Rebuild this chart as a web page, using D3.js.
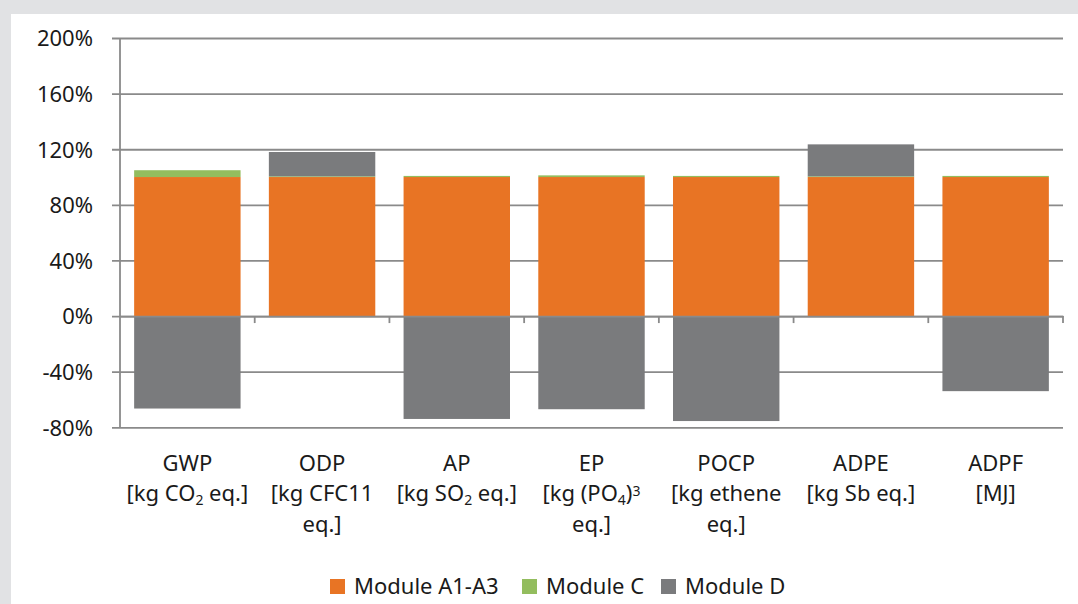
<!DOCTYPE html>
<html>
<head>
<meta charset="utf-8">
<script src="https://cdn.jsdelivr.net/npm/d3@7"></script>
<style>
  body { margin: 0; background: #e1e2e4; }
  svg { display: block; }
  text { font-family: "Noto Sans", "Open Sans", sans-serif; fill: #1a1a1a; }
</style>
</head>
<body>
<div id="chart"></div>
<script>
"use strict";

// categories, with the unit lines below them ("_x" = subscript, "^x" = superscript)
var categories = ["GWP", "ODP", "AP", "EP", "POCP", "ADPE", "ADPF"];
var unitLines = [
	["[kg CO_2 eq.]"],
	["[kg CFC11", "eq.]"],
	["[kg SO_2 eq.]"],
	["[kg (PO_4)^3", "eq.]"],
	["[kg ethene", "eq.]"],
	["[kg Sb eq.]"],
	["[MJ]"]
];

// values in %
var moduleA = [100, 100, 100, 100, 100, 100, 100];
var moduleC = [4.9, 0.5, 0.8, 1.2, 0.8, 0.5, 0.8];
var moduleD = [-66.5, 17.5, -74, -67, -75.5, 23, -54];

var seriesNames = ["Module A1-A3", "Module C", "Module D"];
var seriesKeys = ["a", "c", "d"];
var seriesColors = ["#e87424", "#93bd5e", "#7a7b7d"];

var yTicks = [-80, -40, 0, 40, 80, 120, 160, 200];

// == boilerplate ==
var W = 1078, H = 604;
var plot = { left: 120, right: 1063, top: 38, bottom: 427.3 };

var svg = d3.select("#chart").append("svg")
	.attr("width", W)
	.attr("height", H);

// grey frame + white panel
svg.append("rect").attr("width", W).attr("height", H).attr("fill", "#e1e2e4");
svg.append("rect").attr("x", 11).attr("y", 14).attr("width", W - 11).attr("height", H - 14).attr("fill", "#ffffff");

var x = d3.scaleBand()
	.domain(categories)
	.range([plot.left, plot.right])
	.paddingInner(0.21)
	.paddingOuter(0.105);

var y = d3.scaleLinear()
	.domain([-80, 200])
	.range([plot.bottom, plot.top]);

var lineColor = "#8a8a8a";

// gridlines + y labels
var yAxis = d3.axisLeft(y)
	.tickValues(yTicks)
	.tickSize(-(plot.right - plot.left) - 8)
	.tickFormat(function (d) { return d + "%"; });

var gy = svg.append("g")
	.attr("transform", "translate(" + (plot.left - 8) + ",0)")
	.call(yAxis);
gy.select(".domain").remove();
gy.selectAll(".tick line")
	.attr("x2", plot.right - plot.left + 8)
	.attr("stroke", lineColor)
	.attr("stroke-width", 1.8);
gy.selectAll(".tick text")
	.attr("x", -19)
	.attr("dy", "0.36em")
	.style("font-size", "22px")
	.style("font-family", "\"Noto Sans\", sans-serif")
	.attr("fill", "#1a1a1a");

// stacked bars (diverging, so Module D goes below zero when negative)
var rows = categories.map(function (c, i) {
	return { cat: c, a: moduleA[i], c: moduleC[i], d: moduleD[i] };
});
var stack = d3.stack().keys(seriesKeys).offset(d3.stackOffsetDiverging);
var layers = stack(rows);

svg.append("g").selectAll("g")
	.data(layers)
	.enter().append("g")
	.attr("fill", function (d, i) { return seriesColors[i]; })
	.selectAll("rect")
	.data(function (d) { return d; })
	.enter().append("rect")
	.attr("x", function (d) { return x(d.data.cat); })
	.attr("width", x.bandwidth())
	.attr("y", function (d) { return y(Math.max(d[0], d[1])); })
	.attr("height", function (d) { return Math.abs(y(d[0]) - y(d[1])); });

// y axis line
svg.append("line")
	.attr("x1", plot.left).attr("x2", plot.left)
	.attr("y1", plot.top).attr("y2", plot.bottom)
	.attr("stroke", lineColor).attr("stroke-width", 1.8);

// zero line with category tick marks
var xAxis = d3.axisBottom(x).tickSize(0).tickFormat("");
var gx = svg.append("g")
	.attr("transform", "translate(0," + y(0) + ")")
	.call(xAxis);
gx.select(".domain").attr("stroke", lineColor).attr("stroke-width", 1.8);
var bounds = categories.map(function (c) { return x(c) + x.bandwidth() + x.step() * 0.105; });
gx.selectAll(".sep")
	.data(bounds)
	.enter().append("line")
	.attr("x1", function (d) { return d; })
	.attr("x2", function (d) { return d; })
	.attr("y1", 0).attr("y2", 7)
	.attr("stroke", lineColor).attr("stroke-width", 1.8);

// category labels
function addRich(textSel, str) {
	var re = /([_^])(.)/g, last = 0, m;
	while ((m = re.exec(str)) !== null) {
		if (m.index > last) textSel.append("tspan").text(str.slice(last, m.index));
		textSel.append("tspan")
			.attr("baseline-shift", m[1] === "_" ? "-30%" : "38%")
			.style("font-size", "14px")
			.text(m[2]);
		last = re.lastIndex;
	}
	if (last < str.length) textSel.append("tspan").text(str.slice(last));
}

var labels = svg.append("g").selectAll("g")
	.data(categories)
	.enter().append("g")
	.attr("transform", function (d) { return "translate(" + (x(d) + x.bandwidth() / 2) + ",0)"; });

labels.each(function (d, i) {
	var g = d3.select(this);
	var lines = [d].concat(unitLines[i]);
	lines.forEach(function (ln, j) {
		var t = g.append("text")
			.attr("text-anchor", "middle")
			.attr("y", 470.5 + j * 30.5)
			.style("font-size", "22px");
		addRich(t, ln);
	});
});

// legend
var legendX = [330, 522, 661];
var legend = svg.append("g").selectAll("g")
	.data(seriesNames)
	.enter().append("g")
	.attr("transform", function (d, i) { return "translate(" + legendX[i] + ",579)"; });
legend.append("rect")
	.attr("width", 15).attr("height", 15)
	.attr("fill", function (d, i) { return seriesColors[i]; });
legend.append("text")
	.attr("x", 24).attr("y", 15)
	.style("font-size", "22px")
	.text(function (d) { return d; });
</script>
</body>
</html>
